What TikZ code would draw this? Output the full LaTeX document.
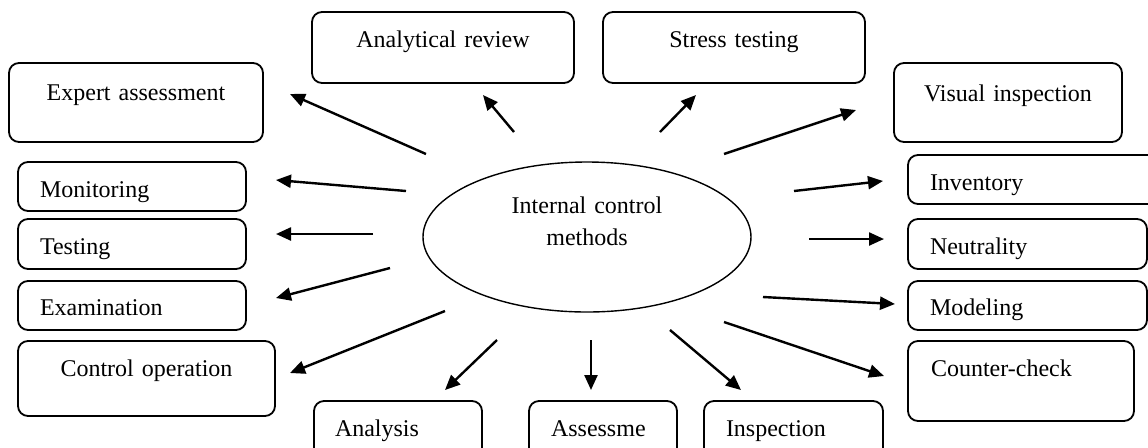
\documentclass[tikz,border=0pt]{standalone}
\usepackage{fontspec}
\setmainfont{Liberation Serif}
\usetikzlibrary{arrows.meta, shapes.geometric}

\begin{document}
\begin{tikzpicture}[
    x=0.5pt, y=-0.5pt,
    >={Triangle[length=7.5pt, width=6.5pt]},
    every node/.style={font=\fontsize{12pt}{16pt}\selectfont},
    meth/.style={draw, line width=0.9pt, rounded corners=5pt, anchor=north west,
        outer sep=0pt, inner ysep=0pt, inner xsep=11pt, align=left},
    methc/.style={meth, inner xsep=0pt, align=center},
    hub/.style={ellipse, draw, line width=0.7pt, minimum width=164pt,
        minimum height=75pt, inner sep=0pt, text width=90pt, align=center,
        text height=10pt, text depth=34pt},
    arr/.style={->, line width=1.2pt}
]

\clip[use as bounding box] (0,0) rectangle (1148,447);

% Centre
\node[hub] (hub) at (587,237) {Internal control\\methods};

% Top row
\node[methc, text width=131pt, text height=17.5pt, text depth=18pt] (anrev) at (312,12) {Analytical review};
\node[methc, text width=131pt, text height=17.5pt, text depth=18pt] (stress) at (603,12) {Stress testing};

% Left column
\node[methc, text width=127pt, text height=18.5pt, text depth=21pt] (expert) at (9,63) {Expert assessment};
\node[meth, text width=92pt, text height=17.5pt, text depth=7pt] (monit) at (18,162) {Monitoring};
\node[meth, text width=92pt, text height=17.5pt, text depth=7.5pt] (test) at (18,219) {Testing};
\node[meth, text width=92pt, text height=17pt, text depth=7.5pt] (exam) at (18,281) {Examination};
\node[methc, text width=128.5pt, text height=17.5pt, text depth=20pt] (ctrlop) at (18,341) {Control operation};

% Right column
\node[methc, text width=114pt, text height=19pt, text depth=20.5pt] (visual) at (894,63) {Visual inspection};
\node[meth, text width=108pt, text height=17.5pt, text depth=7pt] (invent) at (908,155) {Inventory};
\node[meth, text width=97.5pt, text height=17.5pt, text depth=7.5pt] (neutr) at (908,219) {Neutrality};
\node[meth, text width=97.5pt, text height=17pt, text depth=7.5pt] (model) at (908,281) {Modeling};
\node[meth, inner xsep=11.5pt, text width=90pt, text height=17.5pt, text depth=22.5pt] (counter) at (908,341) {Counter-check};

% Bottom row
\node[meth, inner xsep=10.5pt, text width=63pt, text height=17.5pt, text depth=12.5pt] (analys) at (314,401) {Analysis};
\node[meth, text width=52pt, text height=17.5pt, text depth=12.5pt] (assess) at (529,401) {Assessme};
\node[meth, text width=67.5pt, text height=17.5pt, text depth=12.5pt] (inspect) at (704,401) {Inspection};

% Arrows (tail near the ellipse, head near the box)
\foreach \n/\tx/\ty/\hx/\hy in {
    expert/426/154/290/94, anrev/514/132/483/95, stress/660/132/696/95,
    visual/724/154/856/110, monit/406/191/276/180, invent/794/191/883/181,
    test/373/234/276/234, neutr/809/239/884/239, exam/390/268/276/298,
    model/763/297/895/304, ctrlop/445/311/290/373, counter/724/322/884/376,
    analys/497/340/445/390, assess/591/340/591/390, inspect/670/330/741/390} {
  \coordinate (\n-from) at (\tx,\ty);
  \coordinate (\n-to) at (\hx,\hy);
  \draw[arr] (\n-from) -- (\n-to);
}

\end{tikzpicture}
\end{document}
